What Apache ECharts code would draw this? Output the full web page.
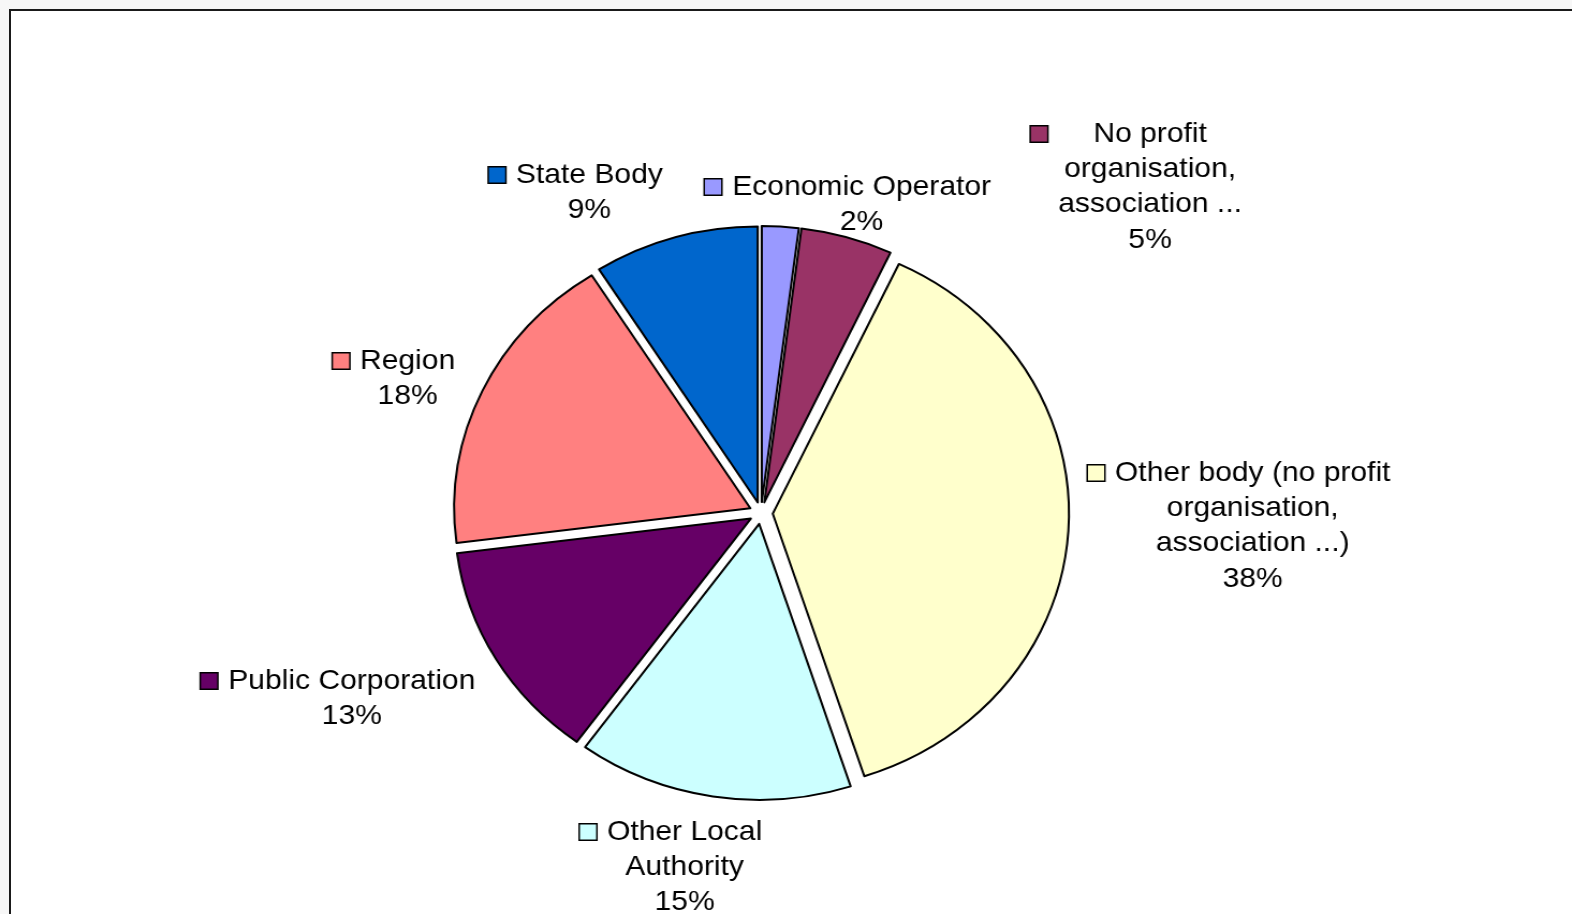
<!DOCTYPE html>
<html>
<head>
<meta charset="utf-8">
<script src="https://cdn.jsdelivr.net/npm/echarts@6/dist/echarts.min.js"></script>
<style>
  html, body { margin: 0; padding: 0; width: 1572px; height: 914px; overflow: hidden; background: #f7f7f7; }
  #frame { position: absolute; left: 9px; top: 9px; width: 1700px; height: 1000px; background: #fff;
           border-left: 2px solid #1a1a1a; border-top: 2px solid #1a1a1a; }
  #chart { position: absolute; left: 0; top: 0; height: 914px; transform-origin: 0 0; }
</style>
</head>
<body>
<div id="frame"></div>
<div id="chart"></div>
<script>
// ---- data ----
const categories = [
  'Economic Operator',
  'No profit organisation, association ...',
  'Other body (no profit organisation, association ...)',
  'Other Local Authority',
  'Public Corporation',
  'Region',
  'State Body'
];
const labelLines = [
  ['Economic Operator'],
  ['No profit', 'organisation,', 'association ...'],
  ['Other body (no profit', 'organisation,', 'association ...)'],
  ['Other Local', 'Authority'],
  ['Public Corporation'],
  ['Region'],
  ['State Body']
];
const shares = [2, 5, 38, 15, 13, 18, 9];
const colors = ['#9999FF', '#993366', '#FFFFCC', '#CCFFFF', '#660066', '#FF8080', '#0066CC'];

// ---- layout (screen px): legend-key left edge, first-line centre ----
const labelAnchors = [[705, 187], [1031, 134], [1088, 473], [580, 832], [201, 681], [333, 361], [489, 175]];
const SX = 1.073;           // horizontal stretch of the original picture
const FONT = 28, LH = 35.3, FAMILY = '"Liberation Sans", Arial, sans-serif';

const el = document.getElementById('chart');
el.style.width = (1572 / SX) + 'px';
el.style.transform = 'scaleX(' + SX + ')';

const ctx = document.createElement('canvas').getContext('2d');
ctx.font = FONT + 'px ' + FAMILY;

const sliceData = categories.map((name, i) => ({
  name: name, value: shares[i], selected: true, itemStyle: { color: colors[i] }
}));

const labelData = categories.map((name, i) => {
  const lines = labelLines[i];
  const w = Math.ceil(Math.max(...lines.map(s => ctx.measureText(s).width), ctx.measureText('38%').width)) + 2;
  return {
    name: name,
    value: shares[i],
    label: {
      formatter: function (p) {
        const pct = Math.round(p.percent) + '%';
        let s = '{k|}{g|}{t|' + lines[0] + '}';
        for (let j = 1; j < lines.length; j++) s += '\n{b|}{t|' + lines[j] + '}';
        s += '\n{b|}{t|' + pct + '}';
        return s;
      },
      rich: {
        k: { width: 15, height: 15, backgroundColor: colors[i], borderColor: '#000', borderWidth: 1.5, lineHeight: LH },
        g: { width: 9, lineHeight: LH },
        b: { width: 24, lineHeight: LH },
        t: { width: w, align: 'center', fontSize: FONT, lineHeight: LH, fontFamily: FAMILY, color: '#000' }
      }
    }
  };
});

const chart = echarts.init(el, null, { renderer: 'canvas' });
chart.setOption({
  animation: false,
  backgroundColor: 'transparent',
  series: [{
    type: 'pie',
    center: [761 / SX, 513],
    radius: 276,
    startAngle: 90,
    clockwise: true,
    selectedMode: 'multiple',
    selectedOffset: 11,
    itemStyle: { borderColor: '#000', borderWidth: 2 },
    select: { itemStyle: { borderColor: '#000', borderWidth: 2 } },
    emphasis: { disabled: true, scale: false },
    label: { show: false },
    labelLine: { show: false },
    data: sliceData
  }, {
    type: 'pie',
    silent: true,
    center: [761 / SX, 513],
    radius: 276,
    startAngle: 90,
    clockwise: true,
    selectedMode: false,
    avoidLabelOverlap: false,
    itemStyle: { color: 'rgba(0,0,0,0)', borderWidth: 0 },
    emphasis: { disabled: true, scale: false },
    label: {
      show: true, position: 'outside', fontSize: FONT, fontFamily: FAMILY, color: '#000', overflow: 'none'
    },
    labelLine: { show: false },
    labelLayout: function (p) {
      const a = labelAnchors[p.dataIndex];
      return { x: a[0] / SX, y: a[1] - LH / 2, align: 'left', verticalAlign: 'top' };
    },
    data: labelData
  }]
});
</script>
</body>
</html>
